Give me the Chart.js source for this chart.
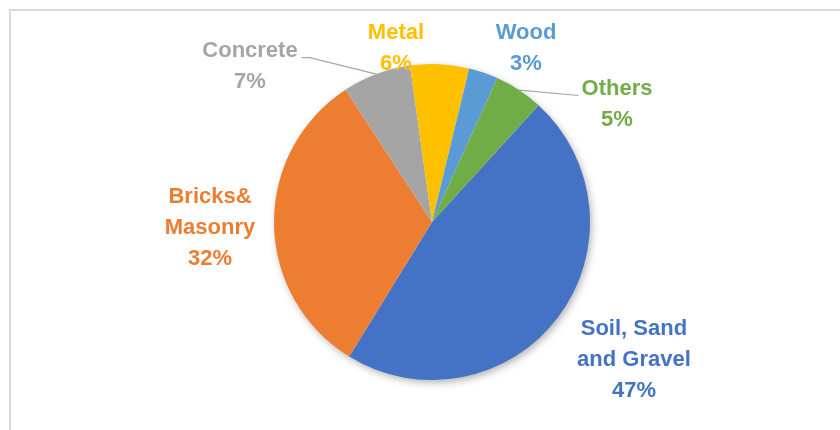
<!DOCTYPE html>
<html>
<head>
<meta charset="utf-8">
<script src="https://cdn.jsdelivr.net/npm/chart.js@4.4.1/dist/chart.umd.min.js"></script>
<style>
  html, body { margin: 0; padding: 0; background: #fff; }
  #wrap { position: relative; width: 840px; height: 430px; overflow: hidden; }
  #frame { position: absolute; left: 9px; top: 9px; width: 900px; height: 440px;
           border-left: 2px solid #d9d9d9; border-top: 2px solid #d9d9d9; }
  #pie { position: absolute; left: 0; top: 0; }
</style>
</head>
<body>
<div id="wrap">
  <div id="frame"></div>
  <canvas id="pie" width="840" height="430"></canvas>
</div>
<script>
// data
const categories = ['Soil, Sand and Gravel', 'Bricks& Masonry', 'Concrete', 'Metal', 'Wood', 'Others'];
const labelLines = [['Soil, Sand', 'and Gravel'], ['Bricks&', 'Masonry'], ['Concrete'], ['Metal'], ['Wood'], ['Others']];
const shares = [47, 32, 7, 6, 3, 5];
const sliceColors = ['#4472C4', '#ED7D31', '#A5A5A5', '#FFC000', '#5B9BD5', '#70AD47'];

// label placement, in units of the pie radius from its centre
const labelOffsets = [[1.278, 0.873], [-1.405, 0.038], [-1.152, -0.987], [-0.228, -1.101], [0.595, -1.101], [1.171, -0.747]];
const leaderSide = [null, null, 'right', null, null, 'left'];

const FONT = 'bold 22px "Liberation Sans", Arial, sans-serif';
const LINE_H = 31;

// soft drop shadow under the pie (Excel look)
const pieShadow = {
    id: 'pieShadow',
    beforeDatasetsDraw(chart) {
        const arc = chart.getDatasetMeta(0).data[0];
        if (!arc) return;
        const { x, y, outerRadius } = arc.getProps(['x', 'y', 'outerRadius'], true);
        const ctx = chart.ctx;
        ctx.save();
        ctx.shadowColor = 'rgba(0,0,0,0.35)';
        ctx.shadowBlur = 9;
        ctx.shadowOffsetX = 2;
        ctx.shadowOffsetY = 3;
        ctx.fillStyle = '#fff';
        ctx.beginPath();
        ctx.arc(x, y, outerRadius - 1, 0, Math.PI * 2);
        ctx.fill();
        ctx.restore();
    }
};

const sliceLabels = {
    id: 'sliceLabels',
    afterDatasetsDraw(chart) {
        const ctx = chart.ctx;
        const arcs = chart.getDatasetMeta(0).data;
        ctx.save();
        ctx.font = FONT;
        ctx.textAlign = 'center';
        ctx.textBaseline = 'middle';
        arcs.forEach((arc, i) => {
            const p = arc.getProps(['x', 'y', 'outerRadius', 'startAngle', 'endAngle'], true);
            const r = p.outerRadius;
            const lines = labelLines[i].concat([shares[i] + '%']);
            const cx = p.x + labelOffsets[i][0] * r;
            const cy = p.y + labelOffsets[i][1] * r;
            const y0 = cy - (lines.length - 1) * LINE_H / 2;

            // leader line from slice edge to the label
            if (leaderSide[i]) {
                const mid = (p.startAngle + p.endAngle) / 2;
                const ex = p.x + Math.cos(mid) * r;
                const ey = p.y + Math.sin(mid) * r;
                const w = ctx.measureText(lines[0]).width;
                ctx.strokeStyle = '#a6a6a6';
                ctx.lineWidth = 1.2;
                ctx.beginPath();
                if (leaderSide[i] === 'right') {
                    const lx = cx + w / 2 + 4;
                    const ly = y0 + 7;
                    ctx.moveTo(lx, ly);
                    ctx.lineTo(lx + 8, ly);
                    ctx.lineTo(ex, ey);
                } else {
                    const lx = cx - w / 2 - 3;
                    const ly = y0 + 7;
                    ctx.moveTo(ex, ey);
                    ctx.lineTo(lx, ly);
                }
                ctx.stroke();
            }

            ctx.fillStyle = sliceColors[i];
            lines.forEach((t, k) => ctx.fillText(t, cx, y0 + k * LINE_H));
        });
        ctx.restore();
    }
};

new Chart(document.getElementById('pie'), {
    type: 'pie',
    data: {
        labels: categories,
        datasets: [{
            data: shares,
            backgroundColor: sliceColors,
            borderWidth: 0
        }]
    },
    options: {
        responsive: false,
        animation: false,
        rotation: 42.4,
        layout: { padding: { left: 24, right: 0, top: 64, bottom: 50 } },
        plugins: {
            legend: { display: false },
            tooltip: { enabled: false }
        }
    },
    plugins: [pieShadow, sliceLabels]
});
</script>
</body>
</html>
